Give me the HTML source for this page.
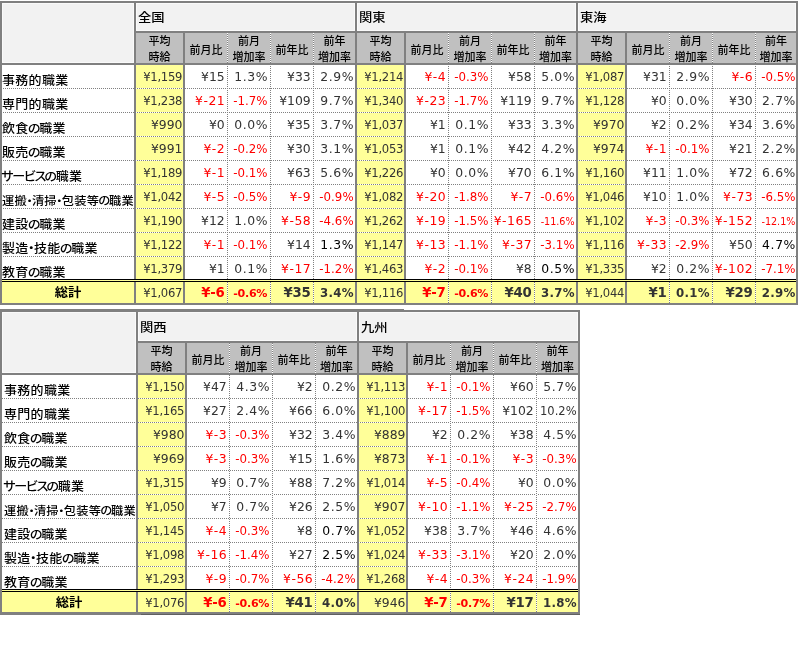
<!DOCTYPE html>
<html lang="ja"><head><meta charset="utf-8"><title>職種別平均時給</title><style>
html,body{margin:0;padding:0;background:#fff;}
#w{position:relative;width:798px;height:650px;overflow:hidden;background:#fff;font-family:"DejaVu Sans","Liberation Sans","Noto Sans CJK JP",sans-serif;}
#w div{position:absolute;box-sizing:border-box;}
.hd{height:1px;background-size:2px 1px;}
.vd{width:1px;background-size:1px 2px;}
.t{white-space:nowrap;overflow:visible;}
.lab{transform:scaleY(.92);transform-origin:0 24px;font-family:"Liberation Sans","Noto Sans CJK JP",sans-serif;font-size:13px;letter-spacing:.3px;color:#000;text-align:left;font-feature-settings:"palt";font-weight:500;}
.lab .k{letter-spacing:-1.2px;margin-left:-0.7px;}
.lab .kk{letter-spacing:-1.2px;margin-left:-0.8px;}
.lab .d{letter-spacing:-0.7px;margin-left:-0.5px;}
.lab .lg{font-size:12.2px;}
.tot{transform:scaleY(.92);transform-origin:0 14px;font-family:"Liberation Sans","Noto Sans CJK JP",sans-serif;font-size:13.3px;font-weight:bold;color:#000;text-align:center;}
.hd1{transform:scaleY(.91);transform-origin:0 17px;font-family:"Liberation Sans","Noto Sans CJK JP",sans-serif;font-size:13.3px;font-weight:500;color:#000;text-align:left;}
.sub{font-family:"Liberation Sans","Noto Sans CJK JP",sans-serif;font-size:11px;color:#000;text-align:center;display:flex;align-items:center;justify-content:center;line-height:16px;font-weight:500;}
.n{font-size:12.4px;color:#333;text-align:right;}
.n.k{color:#000;}
.n.r{color:#ff0000;}
.n.s9{font-size:11.6px;letter-spacing:-.25px;}
.n.pn{letter-spacing:.6px;}
.n.p9{font-size:11.8px;letter-spacing:0;}
.n.q9{font-size:11.5px;}
.n.p7{font-size:9.6px;}
.n.yn{letter-spacing:.5px;}
.n.b{font-weight:bold;font-size:13.3px;letter-spacing:-.3px;}
.n.b.bpn{font-size:11.8px;letter-spacing:.3px;}
.n.b.bp9{font-size:11.1px;}
</style></head><body><div id="w">
<div style="left:2px;top:3px;width:132px;height:60px;background:#f2f2f2;box-shadow:inset 0 0 0 1px #fafafa;"></div>
<div style="left:136px;top:3px;width:219px;height:28px;background:#f2f2f2;box-shadow:inset 0 0 0 1px #fafafa;"></div>
<div style="left:357px;top:3px;width:219px;height:28px;background:#f2f2f2;box-shadow:inset 0 0 0 1px #fafafa;"></div>
<div style="left:578px;top:3px;width:218px;height:28px;background:#f2f2f2;box-shadow:inset 0 0 0 1px #fafafa;"></div>
<div style="left:136px;top:33px;width:660px;height:30px;background:#c0c0c0;"></div>
<div style="left:2px;top:282px;width:794px;height:21px;background:#ffff99;"></div>
<div style="left:136px;top:65px;width:47px;height:214px;background:#ffff99;"></div>
<div style="left:357px;top:65px;width:47px;height:214px;background:#ffff99;"></div>
<div style="left:578px;top:65px;width:47px;height:214px;background:#ffff99;"></div>
<div class="hd" style="left:2px;top:88px;width:794px;background-image:linear-gradient(to right,#fff 50%,#808080 50%)"></div>
<div class="hd" style="left:2px;top:112px;width:794px;background-image:linear-gradient(to right,#fff 50%,#808080 50%)"></div>
<div class="hd" style="left:2px;top:136px;width:794px;background-image:linear-gradient(to right,#fff 50%,#808080 50%)"></div>
<div class="hd" style="left:2px;top:160px;width:794px;background-image:linear-gradient(to right,#fff 50%,#808080 50%)"></div>
<div class="hd" style="left:2px;top:184px;width:794px;background-image:linear-gradient(to right,#fff 50%,#808080 50%)"></div>
<div class="hd" style="left:2px;top:208px;width:794px;background-image:linear-gradient(to right,#fff 50%,#808080 50%)"></div>
<div class="hd" style="left:2px;top:232px;width:794px;background-image:linear-gradient(to right,#fff 50%,#808080 50%)"></div>
<div class="hd" style="left:2px;top:256px;width:794px;background-image:linear-gradient(to right,#fff 50%,#808080 50%)"></div>
<div class="vd" style="left:227px;top:33px;height:270px;background-image:linear-gradient(to bottom,#fff 50%,#808080 50%)"></div>
<div class="vd" style="left:270px;top:33px;height:270px;background-image:linear-gradient(to bottom,#fff 50%,#808080 50%)"></div>
<div class="vd" style="left:313px;top:33px;height:270px;background-image:linear-gradient(to bottom,#fff 50%,#808080 50%)"></div>
<div class="vd" style="left:448px;top:33px;height:270px;background-image:linear-gradient(to bottom,#fff 50%,#808080 50%)"></div>
<div class="vd" style="left:491px;top:33px;height:270px;background-image:linear-gradient(to bottom,#fff 50%,#808080 50%)"></div>
<div class="vd" style="left:534px;top:33px;height:270px;background-image:linear-gradient(to bottom,#fff 50%,#808080 50%)"></div>
<div class="vd" style="left:669px;top:33px;height:270px;background-image:linear-gradient(to bottom,#fff 50%,#808080 50%)"></div>
<div class="vd" style="left:712px;top:33px;height:270px;background-image:linear-gradient(to bottom,#fff 50%,#808080 50%)"></div>
<div class="vd" style="left:755px;top:33px;height:270px;background-image:linear-gradient(to bottom,#fff 50%,#808080 50%)"></div>
<div style="left:0px;top:1px;width:798px;height:2px;background:#808080;"></div>
<div style="left:0px;top:1px;width:2px;height:304px;background:#808080;"></div>
<div style="left:796px;top:1px;width:2px;height:304px;background:#808080;"></div>
<div style="left:0px;top:303px;width:798px;height:2px;background:#808080;"></div>
<div style="left:134px;top:31px;width:662px;height:2px;background:#808080;"></div>
<div style="left:0px;top:63px;width:796px;height:2px;background:#808080;"></div>
<div style="left:134px;top:3px;width:2px;height:300px;background:#808080;"></div>
<div style="left:183px;top:33px;width:2px;height:270px;background:#808080;"></div>
<div style="left:355px;top:3px;width:2px;height:300px;background:#808080;"></div>
<div style="left:404px;top:33px;width:2px;height:270px;background:#808080;"></div>
<div style="left:576px;top:3px;width:2px;height:300px;background:#808080;"></div>
<div style="left:625px;top:33px;width:2px;height:270px;background:#808080;"></div>
<div style="left:2px;top:279px;width:794px;height:1px;background:#000;"></div>
<div style="left:2px;top:280px;width:794px;height:1px;background:#ffff99;"></div>
<div style="left:2px;top:281px;width:794px;height:1px;background:#000;"></div>
<div class="t lab" style="left:2px;top:67.5px;width:132px;height:23px;line-height:23px;">事務的職業</div>
<div class="t lab" style="left:2px;top:91.5px;width:132px;height:23px;line-height:23px;">専門的職業</div>
<div class="t lab" style="left:2px;top:115.5px;width:132px;height:23px;line-height:23px;">飲食<span class="k">の</span>職業</div>
<div class="t lab" style="left:2px;top:139.5px;width:132px;height:23px;line-height:23px;">販売<span class="k">の</span>職業</div>
<div class="t lab" style="left:2px;top:163.5px;width:132px;height:23px;line-height:23px;"><span class="kk">サービス</span><span class="k">の</span>職業</div>
<div class="t lab" style="left:2px;top:187.5px;width:132px;height:23px;line-height:23px;"><span class="lg">運搬<span class="d">・</span>清掃<span class="d">・</span>包装等<span class="k">の</span>職業</span></div>
<div class="t lab" style="left:2px;top:211.5px;width:132px;height:23px;line-height:23px;">建設<span class="k">の</span>職業</div>
<div class="t lab" style="left:2px;top:235.5px;width:132px;height:23px;line-height:23px;">製造<span class="d">・</span>技能<span class="k">の</span>職業</div>
<div class="t lab" style="left:2px;top:259.5px;width:132px;height:23px;line-height:23px;">教育<span class="k">の</span>職業</div>
<div class="t tot" style="left:2px;top:282px;width:132px;height:21px;line-height:21px;">総計</div>
<div class="t hd1" style="left:138px;top:3.5px;width:200px;height:28px;line-height:28px;">全国</div>
<div class="t sub" style="left:136px;top:34px;width:47px;height:30px"><span>平均<br>時給</span></div>
<div class="t sub" style="left:185px;top:35px;width:42px;height:30px"><span>前月比</span></div>
<div class="t sub" style="left:228px;top:34px;width:42px;height:30px"><span>前月<br>増加率</span></div>
<div class="t sub" style="left:271px;top:35px;width:42px;height:30px"><span>前年比</span></div>
<div class="t sub" style="left:314px;top:34px;width:41px;height:30px"><span>前年<br>増加率</span></div>
<div class="t n s9" style="left:136px;top:66px;width:46.25px;height:23px;line-height:23px;">¥1,159</div>
<div class="t n" style="left:185px;top:65px;width:39.7px;height:23px;line-height:23px;">¥15</div>
<div class="t n pn" style="left:228px;top:65px;width:40.1px;height:23px;line-height:23px;">1.3%</div>
<div class="t n" style="left:271px;top:65px;width:39.7px;height:23px;line-height:23px;">¥33</div>
<div class="t n pn" style="left:314px;top:65px;width:40.2px;height:23px;line-height:23px;">2.9%</div>
<div class="t n s9" style="left:136px;top:90px;width:46.25px;height:23px;line-height:23px;">¥1,238</div>
<div class="t n r yn" style="left:185px;top:89px;width:40.2px;height:23px;line-height:23px;">¥-21</div>
<div class="t n r p9" style="left:228px;top:90px;width:39.5px;height:23px;line-height:23px;">-1.7%</div>
<div class="t n" style="left:271px;top:89px;width:39.7px;height:23px;line-height:23px;">¥109</div>
<div class="t n pn" style="left:314px;top:89px;width:40.2px;height:23px;line-height:23px;">9.7%</div>
<div class="t n" style="left:136px;top:113px;width:46.5px;height:23px;line-height:23px;">¥990</div>
<div class="t n" style="left:185px;top:113px;width:39.7px;height:23px;line-height:23px;">¥0</div>
<div class="t n pn" style="left:228px;top:113px;width:40.1px;height:23px;line-height:23px;">0.0%</div>
<div class="t n" style="left:271px;top:113px;width:39.7px;height:23px;line-height:23px;">¥35</div>
<div class="t n pn" style="left:314px;top:113px;width:40.2px;height:23px;line-height:23px;">3.7%</div>
<div class="t n" style="left:136px;top:137px;width:46.5px;height:23px;line-height:23px;">¥991</div>
<div class="t n r yn" style="left:185px;top:137px;width:40.2px;height:23px;line-height:23px;">¥-2</div>
<div class="t n r p9" style="left:228px;top:138px;width:39.5px;height:23px;line-height:23px;">-0.2%</div>
<div class="t n" style="left:271px;top:137px;width:39.7px;height:23px;line-height:23px;">¥30</div>
<div class="t n pn" style="left:314px;top:137px;width:40.2px;height:23px;line-height:23px;">3.1%</div>
<div class="t n s9" style="left:136px;top:162px;width:46.25px;height:23px;line-height:23px;">¥1,189</div>
<div class="t n r yn" style="left:185px;top:161px;width:40.2px;height:23px;line-height:23px;">¥-1</div>
<div class="t n r p9" style="left:228px;top:162px;width:39.5px;height:23px;line-height:23px;">-0.1%</div>
<div class="t n" style="left:271px;top:161px;width:39.7px;height:23px;line-height:23px;">¥63</div>
<div class="t n pn" style="left:314px;top:161px;width:40.2px;height:23px;line-height:23px;">5.6%</div>
<div class="t n s9" style="left:136px;top:186px;width:46.25px;height:23px;line-height:23px;">¥1,042</div>
<div class="t n r yn" style="left:185px;top:185px;width:40.2px;height:23px;line-height:23px;">¥-5</div>
<div class="t n r p9" style="left:228px;top:186px;width:39.5px;height:23px;line-height:23px;">-0.5%</div>
<div class="t n r yn" style="left:271px;top:185px;width:40.2px;height:23px;line-height:23px;">¥-9</div>
<div class="t n r p9" style="left:314px;top:186px;width:39.6px;height:23px;line-height:23px;">-0.9%</div>
<div class="t n s9" style="left:136px;top:210px;width:46.25px;height:23px;line-height:23px;">¥1,190</div>
<div class="t n" style="left:185px;top:209px;width:39.7px;height:23px;line-height:23px;">¥12</div>
<div class="t n pn" style="left:228px;top:209px;width:40.1px;height:23px;line-height:23px;">1.0%</div>
<div class="t n r yn" style="left:271px;top:209px;width:40.2px;height:23px;line-height:23px;">¥-58</div>
<div class="t n r p9" style="left:314px;top:210px;width:39.6px;height:23px;line-height:23px;">-4.6%</div>
<div class="t n s9" style="left:136px;top:234px;width:46.25px;height:23px;line-height:23px;">¥1,122</div>
<div class="t n r yn" style="left:185px;top:233px;width:40.2px;height:23px;line-height:23px;">¥-1</div>
<div class="t n r p9" style="left:228px;top:234px;width:39.5px;height:23px;line-height:23px;">-0.1%</div>
<div class="t n" style="left:271px;top:233px;width:39.7px;height:23px;line-height:23px;">¥14</div>
<div class="t n k pn" style="left:314px;top:233px;width:40.2px;height:23px;line-height:23px;">1.3%</div>
<div class="t n s9" style="left:136px;top:258px;width:46.25px;height:23px;line-height:23px;">¥1,379</div>
<div class="t n" style="left:185px;top:257px;width:39.7px;height:23px;line-height:23px;">¥1</div>
<div class="t n pn" style="left:228px;top:257px;width:40.1px;height:23px;line-height:23px;">0.1%</div>
<div class="t n r yn" style="left:271px;top:257px;width:40.2px;height:23px;line-height:23px;">¥-17</div>
<div class="t n r p9" style="left:314px;top:258px;width:39.6px;height:23px;line-height:23px;">-1.2%</div>
<div class="t n s9" style="left:136px;top:283px;width:46.25px;height:21px;line-height:21px;">¥1,067</div>
<div class="t n r b" style="left:185px;top:282px;width:39.4px;height:21px;line-height:21px;">¥-6</div>
<div class="t n r b bp9" style="left:228px;top:283px;width:39.2px;height:21px;line-height:21px;">-0.6%</div>
<div class="t n b" style="left:271px;top:282px;width:39.4px;height:21px;line-height:21px;">¥35</div>
<div class="t n b bpn" style="left:314px;top:283px;width:39.9px;height:21px;line-height:21px;">3.4%</div>
<div class="t hd1" style="left:359px;top:3.5px;width:200px;height:28px;line-height:28px;">関東</div>
<div class="t sub" style="left:357px;top:34px;width:47px;height:30px"><span>平均<br>時給</span></div>
<div class="t sub" style="left:406px;top:35px;width:42px;height:30px"><span>前月比</span></div>
<div class="t sub" style="left:449px;top:34px;width:42px;height:30px"><span>前月<br>増加率</span></div>
<div class="t sub" style="left:492px;top:35px;width:42px;height:30px"><span>前年比</span></div>
<div class="t sub" style="left:535px;top:34px;width:41px;height:30px"><span>前年<br>増加率</span></div>
<div class="t n s9" style="left:357px;top:66px;width:46.25px;height:23px;line-height:23px;">¥1,214</div>
<div class="t n r yn" style="left:406px;top:65px;width:40.2px;height:23px;line-height:23px;">¥-4</div>
<div class="t n r p9" style="left:449px;top:66px;width:39.5px;height:23px;line-height:23px;">-0.3%</div>
<div class="t n" style="left:492px;top:65px;width:39.7px;height:23px;line-height:23px;">¥58</div>
<div class="t n pn" style="left:535px;top:65px;width:40.2px;height:23px;line-height:23px;">5.0%</div>
<div class="t n s9" style="left:357px;top:90px;width:46.25px;height:23px;line-height:23px;">¥1,340</div>
<div class="t n r yn" style="left:406px;top:89px;width:40.2px;height:23px;line-height:23px;">¥-23</div>
<div class="t n r p9" style="left:449px;top:90px;width:39.5px;height:23px;line-height:23px;">-1.7%</div>
<div class="t n" style="left:492px;top:89px;width:39.7px;height:23px;line-height:23px;">¥119</div>
<div class="t n pn" style="left:535px;top:89px;width:40.2px;height:23px;line-height:23px;">9.7%</div>
<div class="t n s9" style="left:357px;top:114px;width:46.25px;height:23px;line-height:23px;">¥1,037</div>
<div class="t n" style="left:406px;top:113px;width:39.7px;height:23px;line-height:23px;">¥1</div>
<div class="t n pn" style="left:449px;top:113px;width:40.1px;height:23px;line-height:23px;">0.1%</div>
<div class="t n" style="left:492px;top:113px;width:39.7px;height:23px;line-height:23px;">¥33</div>
<div class="t n pn" style="left:535px;top:113px;width:40.2px;height:23px;line-height:23px;">3.3%</div>
<div class="t n s9" style="left:357px;top:138px;width:46.25px;height:23px;line-height:23px;">¥1,053</div>
<div class="t n" style="left:406px;top:137px;width:39.7px;height:23px;line-height:23px;">¥1</div>
<div class="t n pn" style="left:449px;top:137px;width:40.1px;height:23px;line-height:23px;">0.1%</div>
<div class="t n" style="left:492px;top:137px;width:39.7px;height:23px;line-height:23px;">¥42</div>
<div class="t n pn" style="left:535px;top:137px;width:40.2px;height:23px;line-height:23px;">4.2%</div>
<div class="t n s9" style="left:357px;top:162px;width:46.25px;height:23px;line-height:23px;">¥1,226</div>
<div class="t n" style="left:406px;top:161px;width:39.7px;height:23px;line-height:23px;">¥0</div>
<div class="t n pn" style="left:449px;top:161px;width:40.1px;height:23px;line-height:23px;">0.0%</div>
<div class="t n" style="left:492px;top:161px;width:39.7px;height:23px;line-height:23px;">¥70</div>
<div class="t n pn" style="left:535px;top:161px;width:40.2px;height:23px;line-height:23px;">6.1%</div>
<div class="t n s9" style="left:357px;top:186px;width:46.25px;height:23px;line-height:23px;">¥1,082</div>
<div class="t n r yn" style="left:406px;top:185px;width:40.2px;height:23px;line-height:23px;">¥-20</div>
<div class="t n r p9" style="left:449px;top:186px;width:39.5px;height:23px;line-height:23px;">-1.8%</div>
<div class="t n r yn" style="left:492px;top:185px;width:40.2px;height:23px;line-height:23px;">¥-7</div>
<div class="t n r p9" style="left:535px;top:186px;width:39.6px;height:23px;line-height:23px;">-0.6%</div>
<div class="t n s9" style="left:357px;top:210px;width:46.25px;height:23px;line-height:23px;">¥1,262</div>
<div class="t n r yn" style="left:406px;top:209px;width:40.2px;height:23px;line-height:23px;">¥-19</div>
<div class="t n r p9" style="left:449px;top:210px;width:39.5px;height:23px;line-height:23px;">-1.5%</div>
<div class="t n r yn" style="left:492px;top:209px;width:40.2px;height:23px;line-height:23px;">¥-165</div>
<div class="t n r p7" style="left:535px;top:210px;width:39.6px;height:23px;line-height:23px;">-11.6%</div>
<div class="t n s9" style="left:357px;top:234px;width:46.25px;height:23px;line-height:23px;">¥1,147</div>
<div class="t n r yn" style="left:406px;top:233px;width:40.2px;height:23px;line-height:23px;">¥-13</div>
<div class="t n r p9" style="left:449px;top:234px;width:39.5px;height:23px;line-height:23px;">-1.1%</div>
<div class="t n r yn" style="left:492px;top:233px;width:40.2px;height:23px;line-height:23px;">¥-37</div>
<div class="t n r p9" style="left:535px;top:234px;width:39.6px;height:23px;line-height:23px;">-3.1%</div>
<div class="t n s9" style="left:357px;top:258px;width:46.25px;height:23px;line-height:23px;">¥1,463</div>
<div class="t n r yn" style="left:406px;top:257px;width:40.2px;height:23px;line-height:23px;">¥-2</div>
<div class="t n r p9" style="left:449px;top:258px;width:39.5px;height:23px;line-height:23px;">-0.1%</div>
<div class="t n" style="left:492px;top:257px;width:39.7px;height:23px;line-height:23px;">¥8</div>
<div class="t n k pn" style="left:535px;top:257px;width:40.2px;height:23px;line-height:23px;">0.5%</div>
<div class="t n s9" style="left:357px;top:283px;width:46.25px;height:21px;line-height:21px;">¥1,116</div>
<div class="t n r b" style="left:406px;top:282px;width:39.4px;height:21px;line-height:21px;">¥-7</div>
<div class="t n r b bp9" style="left:449px;top:283px;width:39.2px;height:21px;line-height:21px;">-0.6%</div>
<div class="t n b" style="left:492px;top:282px;width:39.4px;height:21px;line-height:21px;">¥40</div>
<div class="t n b bpn" style="left:535px;top:283px;width:39.9px;height:21px;line-height:21px;">3.7%</div>
<div class="t hd1" style="left:580px;top:3.5px;width:200px;height:28px;line-height:28px;">東海</div>
<div class="t sub" style="left:578px;top:34px;width:47px;height:30px"><span>平均<br>時給</span></div>
<div class="t sub" style="left:627px;top:35px;width:42px;height:30px"><span>前月比</span></div>
<div class="t sub" style="left:670px;top:34px;width:42px;height:30px"><span>前月<br>増加率</span></div>
<div class="t sub" style="left:713px;top:35px;width:42px;height:30px"><span>前年比</span></div>
<div class="t sub" style="left:756px;top:34px;width:40px;height:30px"><span>前年<br>増加率</span></div>
<div class="t n s9" style="left:578px;top:66px;width:46.25px;height:23px;line-height:23px;">¥1,087</div>
<div class="t n" style="left:627px;top:65px;width:39.7px;height:23px;line-height:23px;">¥31</div>
<div class="t n pn" style="left:670px;top:65px;width:40.1px;height:23px;line-height:23px;">2.9%</div>
<div class="t n r yn" style="left:713px;top:65px;width:40.2px;height:23px;line-height:23px;">¥-6</div>
<div class="t n r p9" style="left:756px;top:66px;width:39.4px;height:23px;line-height:23px;">-0.5%</div>
<div class="t n s9" style="left:578px;top:90px;width:46.25px;height:23px;line-height:23px;">¥1,128</div>
<div class="t n" style="left:627px;top:89px;width:39.7px;height:23px;line-height:23px;">¥0</div>
<div class="t n pn" style="left:670px;top:89px;width:40.1px;height:23px;line-height:23px;">0.0%</div>
<div class="t n" style="left:713px;top:89px;width:39.7px;height:23px;line-height:23px;">¥30</div>
<div class="t n pn" style="left:756px;top:89px;width:40.0px;height:23px;line-height:23px;">2.7%</div>
<div class="t n" style="left:578px;top:113px;width:46.5px;height:23px;line-height:23px;">¥970</div>
<div class="t n" style="left:627px;top:113px;width:39.7px;height:23px;line-height:23px;">¥2</div>
<div class="t n pn" style="left:670px;top:113px;width:40.1px;height:23px;line-height:23px;">0.2%</div>
<div class="t n" style="left:713px;top:113px;width:39.7px;height:23px;line-height:23px;">¥34</div>
<div class="t n pn" style="left:756px;top:113px;width:40.0px;height:23px;line-height:23px;">3.6%</div>
<div class="t n" style="left:578px;top:137px;width:46.5px;height:23px;line-height:23px;">¥974</div>
<div class="t n r yn" style="left:627px;top:137px;width:40.2px;height:23px;line-height:23px;">¥-1</div>
<div class="t n r p9" style="left:670px;top:138px;width:39.5px;height:23px;line-height:23px;">-0.1%</div>
<div class="t n" style="left:713px;top:137px;width:39.7px;height:23px;line-height:23px;">¥21</div>
<div class="t n pn" style="left:756px;top:137px;width:40.0px;height:23px;line-height:23px;">2.2%</div>
<div class="t n s9" style="left:578px;top:162px;width:46.25px;height:23px;line-height:23px;">¥1,160</div>
<div class="t n" style="left:627px;top:161px;width:39.7px;height:23px;line-height:23px;">¥11</div>
<div class="t n pn" style="left:670px;top:161px;width:40.1px;height:23px;line-height:23px;">1.0%</div>
<div class="t n" style="left:713px;top:161px;width:39.7px;height:23px;line-height:23px;">¥72</div>
<div class="t n pn" style="left:756px;top:161px;width:40.0px;height:23px;line-height:23px;">6.6%</div>
<div class="t n s9" style="left:578px;top:186px;width:46.25px;height:23px;line-height:23px;">¥1,046</div>
<div class="t n" style="left:627px;top:185px;width:39.7px;height:23px;line-height:23px;">¥10</div>
<div class="t n pn" style="left:670px;top:185px;width:40.1px;height:23px;line-height:23px;">1.0%</div>
<div class="t n r yn" style="left:713px;top:185px;width:40.2px;height:23px;line-height:23px;">¥-73</div>
<div class="t n r p9" style="left:756px;top:186px;width:39.4px;height:23px;line-height:23px;">-6.5%</div>
<div class="t n s9" style="left:578px;top:210px;width:46.25px;height:23px;line-height:23px;">¥1,102</div>
<div class="t n r yn" style="left:627px;top:209px;width:40.2px;height:23px;line-height:23px;">¥-3</div>
<div class="t n r p9" style="left:670px;top:210px;width:39.5px;height:23px;line-height:23px;">-0.3%</div>
<div class="t n r yn" style="left:713px;top:209px;width:40.2px;height:23px;line-height:23px;">¥-152</div>
<div class="t n r p7" style="left:756px;top:210px;width:39.4px;height:23px;line-height:23px;">-12.1%</div>
<div class="t n s9" style="left:578px;top:234px;width:46.25px;height:23px;line-height:23px;">¥1,116</div>
<div class="t n r yn" style="left:627px;top:233px;width:40.2px;height:23px;line-height:23px;">¥-33</div>
<div class="t n r p9" style="left:670px;top:234px;width:39.5px;height:23px;line-height:23px;">-2.9%</div>
<div class="t n" style="left:713px;top:233px;width:39.7px;height:23px;line-height:23px;">¥50</div>
<div class="t n k pn" style="left:756px;top:233px;width:40.0px;height:23px;line-height:23px;">4.7%</div>
<div class="t n s9" style="left:578px;top:258px;width:46.25px;height:23px;line-height:23px;">¥1,335</div>
<div class="t n" style="left:627px;top:257px;width:39.7px;height:23px;line-height:23px;">¥2</div>
<div class="t n pn" style="left:670px;top:257px;width:40.1px;height:23px;line-height:23px;">0.2%</div>
<div class="t n r yn" style="left:713px;top:257px;width:40.2px;height:23px;line-height:23px;">¥-102</div>
<div class="t n r p9" style="left:756px;top:258px;width:39.4px;height:23px;line-height:23px;">-7.1%</div>
<div class="t n s9" style="left:578px;top:283px;width:46.25px;height:21px;line-height:21px;">¥1,044</div>
<div class="t n b" style="left:627px;top:282px;width:39.4px;height:21px;line-height:21px;">¥1</div>
<div class="t n b bpn" style="left:670px;top:283px;width:39.8px;height:21px;line-height:21px;">0.1%</div>
<div class="t n b" style="left:713px;top:282px;width:39.4px;height:21px;line-height:21px;">¥29</div>
<div class="t n b bpn" style="left:756px;top:283px;width:39.7px;height:21px;line-height:21px;">2.9%</div>
<div style="left:2px;top:312px;width:134px;height:61px;background:#f2f2f2;box-shadow:inset 0 0 0 1px #fafafa;"></div>
<div style="left:138px;top:312px;width:219px;height:29px;background:#f2f2f2;box-shadow:inset 0 0 0 1px #fafafa;"></div>
<div style="left:359px;top:312px;width:219px;height:29px;background:#f2f2f2;box-shadow:inset 0 0 0 1px #fafafa;"></div>
<div style="left:138px;top:343px;width:440px;height:30px;background:#c0c0c0;"></div>
<div style="left:2px;top:592px;width:576px;height:21px;background:#ffff99;"></div>
<div style="left:138px;top:375px;width:47px;height:214px;background:#ffff99;"></div>
<div style="left:359px;top:375px;width:47px;height:214px;background:#ffff99;"></div>
<div class="hd" style="left:2px;top:398px;width:576px;background-image:linear-gradient(to right,#808080 50%,#fff 50%)"></div>
<div class="hd" style="left:2px;top:422px;width:576px;background-image:linear-gradient(to right,#808080 50%,#fff 50%)"></div>
<div class="hd" style="left:2px;top:446px;width:576px;background-image:linear-gradient(to right,#808080 50%,#fff 50%)"></div>
<div class="hd" style="left:2px;top:470px;width:576px;background-image:linear-gradient(to right,#808080 50%,#fff 50%)"></div>
<div class="hd" style="left:2px;top:494px;width:576px;background-image:linear-gradient(to right,#808080 50%,#fff 50%)"></div>
<div class="hd" style="left:2px;top:518px;width:576px;background-image:linear-gradient(to right,#808080 50%,#fff 50%)"></div>
<div class="hd" style="left:2px;top:542px;width:576px;background-image:linear-gradient(to right,#808080 50%,#fff 50%)"></div>
<div class="hd" style="left:2px;top:566px;width:576px;background-image:linear-gradient(to right,#808080 50%,#fff 50%)"></div>
<div class="vd" style="left:229px;top:343px;height:270px;background-image:linear-gradient(to bottom,#808080 50%,#fff 50%)"></div>
<div class="vd" style="left:272px;top:343px;height:270px;background-image:linear-gradient(to bottom,#808080 50%,#fff 50%)"></div>
<div class="vd" style="left:315px;top:343px;height:270px;background-image:linear-gradient(to bottom,#808080 50%,#fff 50%)"></div>
<div class="vd" style="left:450px;top:343px;height:270px;background-image:linear-gradient(to bottom,#808080 50%,#fff 50%)"></div>
<div class="vd" style="left:493px;top:343px;height:270px;background-image:linear-gradient(to bottom,#808080 50%,#fff 50%)"></div>
<div class="vd" style="left:536px;top:343px;height:270px;background-image:linear-gradient(to bottom,#808080 50%,#fff 50%)"></div>
<div style="left:0px;top:310px;width:580px;height:2px;background:#808080;"></div>
<div style="left:0px;top:310px;width:2px;height:305px;background:#808080;"></div>
<div style="left:578px;top:310px;width:2px;height:305px;background:#808080;"></div>
<div style="left:0px;top:613px;width:580px;height:2px;background:#808080;"></div>
<div style="left:136px;top:341px;width:442px;height:2px;background:#808080;"></div>
<div style="left:0px;top:373px;width:578px;height:2px;background:#808080;"></div>
<div style="left:136px;top:312px;width:2px;height:301px;background:#808080;"></div>
<div style="left:185px;top:343px;width:2px;height:270px;background:#808080;"></div>
<div style="left:357px;top:312px;width:2px;height:301px;background:#808080;"></div>
<div style="left:406px;top:343px;width:2px;height:270px;background:#808080;"></div>
<div style="left:2px;top:589px;width:576px;height:1px;background:#000;"></div>
<div style="left:2px;top:590px;width:576px;height:1px;background:#ffff99;"></div>
<div style="left:2px;top:591px;width:576px;height:1px;background:#000;"></div>
<div class="t lab" style="left:4px;top:377.5px;width:132px;height:23px;line-height:23px;">事務的職業</div>
<div class="t lab" style="left:4px;top:401.5px;width:132px;height:23px;line-height:23px;">専門的職業</div>
<div class="t lab" style="left:4px;top:425.5px;width:132px;height:23px;line-height:23px;">飲食<span class="k">の</span>職業</div>
<div class="t lab" style="left:4px;top:449.5px;width:132px;height:23px;line-height:23px;">販売<span class="k">の</span>職業</div>
<div class="t lab" style="left:4px;top:473.5px;width:132px;height:23px;line-height:23px;"><span class="kk">サービス</span><span class="k">の</span>職業</div>
<div class="t lab" style="left:4px;top:497.5px;width:132px;height:23px;line-height:23px;"><span class="lg">運搬<span class="d">・</span>清掃<span class="d">・</span>包装等<span class="k">の</span>職業</span></div>
<div class="t lab" style="left:4px;top:521.5px;width:132px;height:23px;line-height:23px;">建設<span class="k">の</span>職業</div>
<div class="t lab" style="left:4px;top:545.5px;width:132px;height:23px;line-height:23px;">製造<span class="d">・</span>技能<span class="k">の</span>職業</div>
<div class="t lab" style="left:4px;top:569.5px;width:132px;height:23px;line-height:23px;">教育<span class="k">の</span>職業</div>
<div class="t tot" style="left:2px;top:592px;width:134px;height:21px;line-height:21px;">総計</div>
<div class="t hd1" style="left:140px;top:313.5px;width:200px;height:28px;line-height:28px;">関西</div>
<div class="t sub" style="left:138px;top:344px;width:47px;height:30px"><span>平均<br>時給</span></div>
<div class="t sub" style="left:187px;top:345px;width:42px;height:30px"><span>前月比</span></div>
<div class="t sub" style="left:230px;top:344px;width:42px;height:30px"><span>前月<br>増加率</span></div>
<div class="t sub" style="left:273px;top:345px;width:42px;height:30px"><span>前年比</span></div>
<div class="t sub" style="left:316px;top:344px;width:41px;height:30px"><span>前年<br>増加率</span></div>
<div class="t n s9" style="left:138px;top:376px;width:46.25px;height:23px;line-height:23px;">¥1,150</div>
<div class="t n" style="left:187px;top:375px;width:39.7px;height:23px;line-height:23px;">¥47</div>
<div class="t n pn" style="left:230px;top:375px;width:40.1px;height:23px;line-height:23px;">4.3%</div>
<div class="t n" style="left:273px;top:375px;width:39.7px;height:23px;line-height:23px;">¥2</div>
<div class="t n pn" style="left:316px;top:375px;width:40.2px;height:23px;line-height:23px;">0.2%</div>
<div class="t n s9" style="left:138px;top:400px;width:46.25px;height:23px;line-height:23px;">¥1,165</div>
<div class="t n" style="left:187px;top:399px;width:39.7px;height:23px;line-height:23px;">¥27</div>
<div class="t n pn" style="left:230px;top:399px;width:40.1px;height:23px;line-height:23px;">2.4%</div>
<div class="t n" style="left:273px;top:399px;width:39.7px;height:23px;line-height:23px;">¥66</div>
<div class="t n pn" style="left:316px;top:399px;width:40.2px;height:23px;line-height:23px;">6.0%</div>
<div class="t n" style="left:138px;top:423px;width:46.5px;height:23px;line-height:23px;">¥980</div>
<div class="t n r yn" style="left:187px;top:423px;width:40.2px;height:23px;line-height:23px;">¥-3</div>
<div class="t n r p9" style="left:230px;top:424px;width:39.5px;height:23px;line-height:23px;">-0.3%</div>
<div class="t n" style="left:273px;top:423px;width:39.7px;height:23px;line-height:23px;">¥32</div>
<div class="t n pn" style="left:316px;top:423px;width:40.2px;height:23px;line-height:23px;">3.4%</div>
<div class="t n" style="left:138px;top:447px;width:46.5px;height:23px;line-height:23px;">¥969</div>
<div class="t n r yn" style="left:187px;top:447px;width:40.2px;height:23px;line-height:23px;">¥-3</div>
<div class="t n r p9" style="left:230px;top:448px;width:39.5px;height:23px;line-height:23px;">-0.3%</div>
<div class="t n" style="left:273px;top:447px;width:39.7px;height:23px;line-height:23px;">¥15</div>
<div class="t n pn" style="left:316px;top:447px;width:40.2px;height:23px;line-height:23px;">1.6%</div>
<div class="t n s9" style="left:138px;top:472px;width:46.25px;height:23px;line-height:23px;">¥1,315</div>
<div class="t n" style="left:187px;top:471px;width:39.7px;height:23px;line-height:23px;">¥9</div>
<div class="t n pn" style="left:230px;top:471px;width:40.1px;height:23px;line-height:23px;">0.7%</div>
<div class="t n" style="left:273px;top:471px;width:39.7px;height:23px;line-height:23px;">¥88</div>
<div class="t n pn" style="left:316px;top:471px;width:40.2px;height:23px;line-height:23px;">7.2%</div>
<div class="t n s9" style="left:138px;top:496px;width:46.25px;height:23px;line-height:23px;">¥1,050</div>
<div class="t n" style="left:187px;top:495px;width:39.7px;height:23px;line-height:23px;">¥7</div>
<div class="t n pn" style="left:230px;top:495px;width:40.1px;height:23px;line-height:23px;">0.7%</div>
<div class="t n" style="left:273px;top:495px;width:39.7px;height:23px;line-height:23px;">¥26</div>
<div class="t n pn" style="left:316px;top:495px;width:40.2px;height:23px;line-height:23px;">2.5%</div>
<div class="t n s9" style="left:138px;top:520px;width:46.25px;height:23px;line-height:23px;">¥1,145</div>
<div class="t n r yn" style="left:187px;top:519px;width:40.2px;height:23px;line-height:23px;">¥-4</div>
<div class="t n r p9" style="left:230px;top:520px;width:39.5px;height:23px;line-height:23px;">-0.3%</div>
<div class="t n" style="left:273px;top:519px;width:39.7px;height:23px;line-height:23px;">¥8</div>
<div class="t n k pn" style="left:316px;top:519px;width:40.2px;height:23px;line-height:23px;">0.7%</div>
<div class="t n s9" style="left:138px;top:544px;width:46.25px;height:23px;line-height:23px;">¥1,098</div>
<div class="t n r yn" style="left:187px;top:543px;width:40.2px;height:23px;line-height:23px;">¥-16</div>
<div class="t n r p9" style="left:230px;top:544px;width:39.5px;height:23px;line-height:23px;">-1.4%</div>
<div class="t n" style="left:273px;top:543px;width:39.7px;height:23px;line-height:23px;">¥27</div>
<div class="t n k pn" style="left:316px;top:543px;width:40.2px;height:23px;line-height:23px;">2.5%</div>
<div class="t n s9" style="left:138px;top:568px;width:46.25px;height:23px;line-height:23px;">¥1,293</div>
<div class="t n r yn" style="left:187px;top:567px;width:40.2px;height:23px;line-height:23px;">¥-9</div>
<div class="t n r p9" style="left:230px;top:568px;width:39.5px;height:23px;line-height:23px;">-0.7%</div>
<div class="t n r yn" style="left:273px;top:567px;width:40.2px;height:23px;line-height:23px;">¥-56</div>
<div class="t n r p9" style="left:316px;top:568px;width:39.6px;height:23px;line-height:23px;">-4.2%</div>
<div class="t n s9" style="left:138px;top:593px;width:46.25px;height:21px;line-height:21px;">¥1,076</div>
<div class="t n r b" style="left:187px;top:592px;width:39.4px;height:21px;line-height:21px;">¥-6</div>
<div class="t n r b bp9" style="left:230px;top:593px;width:39.2px;height:21px;line-height:21px;">-0.6%</div>
<div class="t n b" style="left:273px;top:592px;width:39.4px;height:21px;line-height:21px;">¥41</div>
<div class="t n b bpn" style="left:316px;top:593px;width:39.9px;height:21px;line-height:21px;">4.0%</div>
<div class="t hd1" style="left:361px;top:313.5px;width:200px;height:28px;line-height:28px;">九州</div>
<div class="t sub" style="left:359px;top:344px;width:47px;height:30px"><span>平均<br>時給</span></div>
<div class="t sub" style="left:408px;top:345px;width:42px;height:30px"><span>前月比</span></div>
<div class="t sub" style="left:451px;top:344px;width:42px;height:30px"><span>前月<br>増加率</span></div>
<div class="t sub" style="left:494px;top:345px;width:42px;height:30px"><span>前年比</span></div>
<div class="t sub" style="left:537px;top:344px;width:41px;height:30px"><span>前年<br>増加率</span></div>
<div class="t n s9" style="left:359px;top:376px;width:46.25px;height:23px;line-height:23px;">¥1,113</div>
<div class="t n r yn" style="left:408px;top:375px;width:40.2px;height:23px;line-height:23px;">¥-1</div>
<div class="t n r p9" style="left:451px;top:376px;width:39.5px;height:23px;line-height:23px;">-0.1%</div>
<div class="t n" style="left:494px;top:375px;width:39.7px;height:23px;line-height:23px;">¥60</div>
<div class="t n pn" style="left:537px;top:375px;width:40.2px;height:23px;line-height:23px;">5.7%</div>
<div class="t n s9" style="left:359px;top:400px;width:46.25px;height:23px;line-height:23px;">¥1,100</div>
<div class="t n r yn" style="left:408px;top:399px;width:40.2px;height:23px;line-height:23px;">¥-17</div>
<div class="t n r p9" style="left:451px;top:400px;width:39.5px;height:23px;line-height:23px;">-1.5%</div>
<div class="t n" style="left:494px;top:399px;width:39.7px;height:23px;line-height:23px;">¥102</div>
<div class="t n q9" style="left:537px;top:400px;width:39.6px;height:23px;line-height:23px;">10.2%</div>
<div class="t n" style="left:359px;top:423px;width:46.5px;height:23px;line-height:23px;">¥889</div>
<div class="t n" style="left:408px;top:423px;width:39.7px;height:23px;line-height:23px;">¥2</div>
<div class="t n pn" style="left:451px;top:423px;width:40.1px;height:23px;line-height:23px;">0.2%</div>
<div class="t n" style="left:494px;top:423px;width:39.7px;height:23px;line-height:23px;">¥38</div>
<div class="t n pn" style="left:537px;top:423px;width:40.2px;height:23px;line-height:23px;">4.5%</div>
<div class="t n" style="left:359px;top:447px;width:46.5px;height:23px;line-height:23px;">¥873</div>
<div class="t n r yn" style="left:408px;top:447px;width:40.2px;height:23px;line-height:23px;">¥-1</div>
<div class="t n r p9" style="left:451px;top:448px;width:39.5px;height:23px;line-height:23px;">-0.1%</div>
<div class="t n r yn" style="left:494px;top:447px;width:40.2px;height:23px;line-height:23px;">¥-3</div>
<div class="t n r p9" style="left:537px;top:448px;width:39.6px;height:23px;line-height:23px;">-0.3%</div>
<div class="t n s9" style="left:359px;top:472px;width:46.25px;height:23px;line-height:23px;">¥1,014</div>
<div class="t n r yn" style="left:408px;top:471px;width:40.2px;height:23px;line-height:23px;">¥-5</div>
<div class="t n r p9" style="left:451px;top:472px;width:39.5px;height:23px;line-height:23px;">-0.4%</div>
<div class="t n" style="left:494px;top:471px;width:39.7px;height:23px;line-height:23px;">¥0</div>
<div class="t n pn" style="left:537px;top:471px;width:40.2px;height:23px;line-height:23px;">0.0%</div>
<div class="t n" style="left:359px;top:495px;width:46.5px;height:23px;line-height:23px;">¥907</div>
<div class="t n r yn" style="left:408px;top:495px;width:40.2px;height:23px;line-height:23px;">¥-10</div>
<div class="t n r p9" style="left:451px;top:496px;width:39.5px;height:23px;line-height:23px;">-1.1%</div>
<div class="t n r yn" style="left:494px;top:495px;width:40.2px;height:23px;line-height:23px;">¥-25</div>
<div class="t n r p9" style="left:537px;top:496px;width:39.6px;height:23px;line-height:23px;">-2.7%</div>
<div class="t n s9" style="left:359px;top:520px;width:46.25px;height:23px;line-height:23px;">¥1,052</div>
<div class="t n" style="left:408px;top:519px;width:39.7px;height:23px;line-height:23px;">¥38</div>
<div class="t n pn" style="left:451px;top:519px;width:40.1px;height:23px;line-height:23px;">3.7%</div>
<div class="t n" style="left:494px;top:519px;width:39.7px;height:23px;line-height:23px;">¥46</div>
<div class="t n pn" style="left:537px;top:519px;width:40.2px;height:23px;line-height:23px;">4.6%</div>
<div class="t n s9" style="left:359px;top:544px;width:46.25px;height:23px;line-height:23px;">¥1,024</div>
<div class="t n r yn" style="left:408px;top:543px;width:40.2px;height:23px;line-height:23px;">¥-33</div>
<div class="t n r p9" style="left:451px;top:544px;width:39.5px;height:23px;line-height:23px;">-3.1%</div>
<div class="t n" style="left:494px;top:543px;width:39.7px;height:23px;line-height:23px;">¥20</div>
<div class="t n pn" style="left:537px;top:543px;width:40.2px;height:23px;line-height:23px;">2.0%</div>
<div class="t n s9" style="left:359px;top:568px;width:46.25px;height:23px;line-height:23px;">¥1,268</div>
<div class="t n r yn" style="left:408px;top:567px;width:40.2px;height:23px;line-height:23px;">¥-4</div>
<div class="t n r p9" style="left:451px;top:568px;width:39.5px;height:23px;line-height:23px;">-0.3%</div>
<div class="t n r yn" style="left:494px;top:567px;width:40.2px;height:23px;line-height:23px;">¥-24</div>
<div class="t n r p9" style="left:537px;top:568px;width:39.6px;height:23px;line-height:23px;">-1.9%</div>
<div class="t n" style="left:359px;top:592px;width:46.5px;height:21px;line-height:21px;">¥946</div>
<div class="t n r b" style="left:408px;top:592px;width:39.4px;height:21px;line-height:21px;">¥-7</div>
<div class="t n r b bp9" style="left:451px;top:593px;width:39.2px;height:21px;line-height:21px;">-0.7%</div>
<div class="t n b" style="left:494px;top:592px;width:39.4px;height:21px;line-height:21px;">¥17</div>
<div class="t n b bpn" style="left:537px;top:593px;width:39.9px;height:21px;line-height:21px;">1.8%</div>
<div style="left:0px;top:309px;width:404px;height:1px;background:#808080;"></div>
<div style="left:0px;top:612px;width:580px;height:1px;background:#808080;"></div>
<div style="left:141px;top:614px;width:439px;height:1px;background:#606060;"></div>
</div></body></html>
